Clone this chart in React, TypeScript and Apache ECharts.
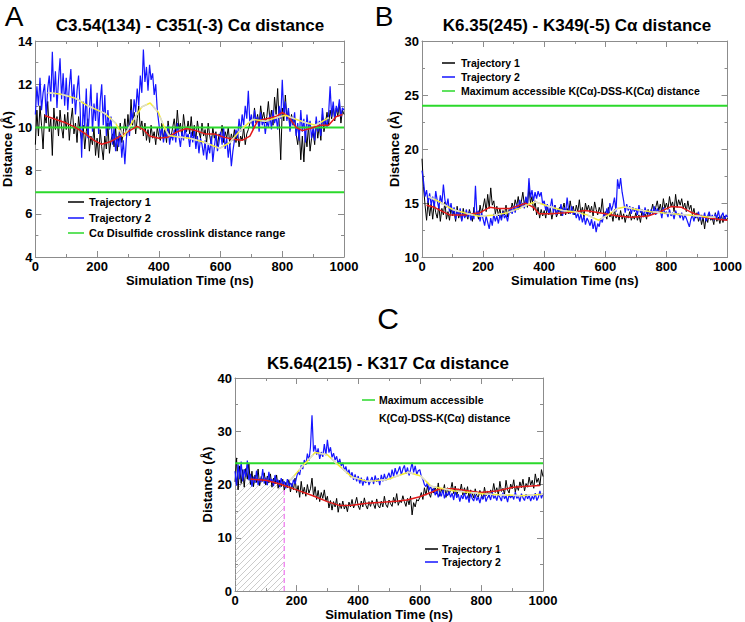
import React, { useEffect, useRef } from 'react';
import * as echarts from 'echarts';

// Sample times (ns), every 5 ns from 0 to 1000
const TIME: number[] = Array.from({ length: 201 }, (_, i) => i * 5);

// ---------- Panel A : C3.54(134) - C351(-3) ----------
const A_TRAJ1 = [
  9.2, 10.8, 9.6, 11.0, 10.1, 9.0, 10.6, 10.2, 11.2, 9.8,
  10.4, 8.7, 10.9, 9.9, 10.5, 9.6, 10.8, 10.0, 9.5, 10.6,
  9.9, 10.7, 9.4, 10.3, 10.9, 9.7, 10.2, 9.3, 10.5, 9.8,
  9.4, 10.1, 9.0, 9.8, 10.4, 8.9, 9.6, 9.2, 10.0, 8.7,
  9.5, 8.6, 9.9, 9.1, 8.5, 9.6, 9.0, 10.2, 8.8, 9.4,
  9.7, 9.1, 10.0, 8.9, 9.5, 10.2, 9.3, 9.8, 10.4, 9.6,
  10.6, 9.8, 11.3, 10.1, 10.7, 9.7, 10.4, 11.0, 9.9, 10.3,
  9.6, 10.2, 9.4, 9.9, 9.3, 10.1, 9.5, 9.8, 9.2, 10.0,
  9.6, 9.4, 10.2, 9.5, 9.9, 9.3, 10.3, 9.7, 9.6, 10.0,
  10.4, 9.7, 10.8, 9.9, 10.2, 9.5, 10.6, 10.0, 9.8, 10.3,
  9.7, 10.5, 9.6, 10.1, 9.4, 10.3, 9.8, 9.5, 10.2, 9.6,
  9.9, 9.3, 10.2, 9.6, 9.2, 10.0, 9.5, 9.8, 9.1, 9.7,
  9.6, 10.1, 9.3, 9.8, 9.5, 10.0, 9.2, 9.7, 9.4, 9.9,
  9.3, 9.8, 9.1, 9.6, 9.4, 10.0, 9.2, 9.7, 9.9, 10.2,
  10.4, 10.0, 10.9, 10.2, 10.6, 10.1, 11.0, 10.4, 10.7, 10.2,
  10.5, 11.2, 10.3, 10.8, 10.1, 11.4, 10.6, 11.8, 10.2, 8.5,
  10.9, 10.3, 11.5, 10.4, 10.8, 9.9, 10.6, 10.1, 10.4, 9.7,
  9.2, 9.9, 8.5, 9.6, 8.4, 9.8, 9.1, 10.1, 8.9, 9.5,
  9.8, 9.2, 10.3, 9.5, 10.1, 9.4, 10.6, 9.8, 10.2, 10.7,
  10.1, 10.8, 10.4, 11.0, 10.3, 10.9, 10.5, 11.1, 10.2, 10.8,
  10.6,
];
const A_TRAJ2 = [
  10.6, 11.9, 11.0, 12.3, 10.8, 11.6, 12.0, 10.5, 11.8, 12.4,
  11.2, 13.5, 11.4, 12.6, 10.9, 12.2, 13.2, 11.3, 12.5, 11.0,
  12.3, 10.8, 11.9, 12.7, 11.1, 12.0, 10.6, 11.7, 12.4, 10.9,
  8.6, 11.2, 10.0, 11.8, 9.5, 10.7, 12.0, 9.8, 11.1, 10.3,
  11.6, 9.7, 11.2, 12.0, 10.1, 11.5, 9.6, 10.8, 9.9, 10.5,
  9.2, 10.0, 8.9, 9.6, 9.1, 9.8, 8.6, 9.4, 8.3, 9.5,
  10.1, 9.6, 10.8, 10.3, 11.3, 10.7, 11.8, 11.0, 12.4, 11.6,
  13.6, 12.1, 12.8, 11.7, 12.9, 12.2, 12.5, 11.5, 12.0, 10.8,
  10.2, 9.6, 10.0, 9.3, 9.8, 9.5, 10.1, 9.2, 9.7, 9.4,
  9.9, 9.3, 10.2, 9.6, 9.1, 9.8, 9.4, 10.0, 9.5, 9.7,
  9.1, 9.8, 9.3, 9.9, 9.0, 9.6, 8.8, 9.5, 9.2, 8.7,
  9.4, 8.5, 9.2, 8.8, 9.6, 8.4, 9.1, 9.7, 8.9, 9.3,
  9.8, 9.2, 10.0, 9.0, 9.5, 8.6, 9.3, 8.2, 8.9, 9.4,
  9.9, 9.5, 10.4, 9.8, 10.6, 10.1, 11.0, 10.4, 11.7, 10.2,
  10.6, 9.9, 10.8, 10.2, 10.5, 9.8, 10.7, 10.1, 10.4, 9.7,
  10.3, 10.0, 10.6, 9.9, 10.8, 10.2, 10.5, 9.9, 11.0, 10.4,
  12.2, 10.6, 11.2, 10.3, 10.9, 9.8, 10.5, 10.1, 10.7, 9.6,
  10.2, 9.4, 10.8, 9.8, 10.4, 9.3, 10.6, 9.9, 10.3, 9.5,
  10.0, 9.4, 10.5, 9.8, 10.3, 9.6, 10.9, 10.1, 10.4, 10.0,
  10.6, 11.9, 10.5, 11.2, 10.4, 11.0, 10.7, 11.3, 10.5, 10.9,
  10.8,
];
const A_AVG1 = [
  [30, 10.55], [60, 10.4], [100, 10.2], [130, 10.0], [160, 9.72], [190, 9.4], [215, 9.22],
  [245, 9.35], [270, 9.55], [300, 9.8], [330, 10.05], [350, 9.9], [370, 9.6], [400, 9.5],
  [430, 9.55], [460, 9.8], [490, 9.95], [520, 9.85], [550, 9.7], [580, 9.7], [610, 9.55],
  [640, 9.45], [670, 9.4], [695, 9.6], [720, 10.3], [750, 10.4], [780, 10.5], [800, 10.7],
  [820, 10.5], [845, 10.0], [865, 9.85], [890, 9.95], [920, 10.1], [950, 10.1], [975, 10.5], [995, 10.6],
];
const A_AVG2 = [
  [40, 11.6], [80, 11.55], [130, 11.35], [170, 11.0], [225, 10.65], [260, 10.2], [285, 9.56],
  [300, 9.9], [320, 10.4], [345, 10.95], [372, 11.13], [398, 10.7], [415, 10.1], [432, 9.63],
  [465, 9.56], [500, 9.5], [550, 9.3], [597, 9.03], [630, 9.3], [660, 9.8], [690, 10.2],
  [705, 10.37], [745, 10.28], [780, 10.45], [810, 10.56], [853, 10.33], [880, 10.2], [908, 10.1], [951, 10.45],
];
const A_LOW = 7;
const A_HIGH = 10;

// ---------- Panel B : K6.35(245) - K349(-5) ----------
const B_TRAJ1 = [
  19.1, 16.5, 14.8, 13.4, 15.2, 13.8, 14.9, 13.5, 15.0, 14.1,
  13.6, 14.8, 13.3, 14.5, 13.9, 15.1, 13.5, 14.2, 13.4, 14.6,
  13.8, 14.3, 13.3, 14.7, 13.6, 14.1, 13.4, 14.5, 13.7, 14.0,
  13.5, 14.4, 13.9, 13.3, 14.6, 13.8, 14.2, 13.5, 14.8, 14.0,
  14.6, 15.4, 14.2, 15.8, 14.5, 16.4, 14.8, 15.2, 14.0, 14.7,
  13.8, 14.5, 13.6, 14.3, 13.9, 14.8, 13.7, 14.4, 14.1, 15.0,
  14.4, 15.3, 14.7, 15.6, 14.5, 15.1, 16.0, 14.8, 15.5, 14.6,
  16.5, 15.0, 15.6, 14.3, 15.2, 13.9, 14.6, 13.6, 14.4, 13.8,
  14.3, 13.6, 14.7, 13.9, 14.5, 13.5, 14.2, 14.8, 13.7, 14.1,
  14.6, 13.8, 14.4, 15.0, 13.9, 14.5, 14.0, 15.2, 14.3, 14.7,
  13.9, 14.8, 14.2, 15.3, 14.0, 14.6, 13.7, 15.0, 14.3, 14.8,
  14.1, 14.7, 13.8, 15.1, 14.4, 13.9, 14.6, 14.1, 15.4, 13.8,
  14.2, 13.5, 14.6, 13.7, 14.1, 13.3, 14.4, 13.6, 14.0, 13.4,
  14.3, 13.5, 14.0, 13.2, 13.9, 13.6, 14.2, 13.4, 13.8, 13.5,
  14.1, 13.4, 13.9, 13.2, 14.3, 13.7, 14.0, 13.5, 14.4, 13.8,
  14.2, 14.9, 14.0, 14.6, 15.2, 14.3, 14.9, 14.1, 15.4, 14.5,
  15.0, 14.4, 15.6, 14.7, 15.1, 14.2, 15.8, 14.6, 15.3, 14.8,
  15.4, 14.5, 15.0, 14.2, 15.2, 14.4, 14.8, 13.9, 14.5, 13.6,
  14.1, 13.3, 13.9, 13.0, 13.7, 12.6, 13.8, 13.2, 14.0, 13.4,
  13.6, 13.0, 14.1, 13.3, 13.7, 13.1, 13.9, 13.2, 13.8, 13.4,
  13.6,
];
const B_TRAJ2 = [
  18.0, 17.0, 15.6, 16.2, 15.0, 15.9, 14.8, 15.6, 14.6, 16.1,
  15.2, 14.5, 15.7, 14.9, 16.7, 15.3, 14.6, 15.4, 14.2, 15.0,
  14.0, 14.6, 13.5, 14.3, 13.8, 14.5, 13.3, 14.1, 13.6, 14.4,
  13.7, 14.2, 13.4, 14.0, 13.5, 16.6, 13.8, 14.3, 13.3, 14.1,
  13.5, 12.9, 13.8, 13.2, 12.6, 13.6, 12.9, 14.0, 13.3, 13.8,
  13.1, 13.9, 13.4, 14.2, 13.6, 13.9, 13.3, 14.1, 14.6, 14.0,
  14.7, 14.1, 14.9, 14.4, 15.3, 14.6, 15.0, 14.5, 15.6, 14.8,
  17.3, 15.5, 16.2, 15.2, 16.0, 15.4, 16.1, 15.6, 16.0, 14.9,
  15.2, 14.3, 14.9, 14.0, 14.6, 15.4, 14.1, 14.8, 13.9, 14.5,
  14.2, 14.9, 13.8, 14.6, 14.1, 15.5, 14.3, 14.0, 14.7, 13.9,
  14.3, 13.6, 14.1, 13.4, 14.0, 13.2, 13.8, 13.0, 13.6, 13.3,
  12.9, 13.5, 12.6, 13.3, 12.3, 13.1, 12.8, 13.6, 13.2, 14.0,
  13.7, 14.5, 13.9, 15.0, 14.3, 14.8, 15.5, 14.2, 17.2, 16.3,
  17.3, 16.0, 15.2, 14.1, 14.9, 14.3, 14.7, 14.0, 14.6, 14.2,
  14.5, 13.9, 14.8, 14.1, 14.4, 13.7, 14.6, 14.0, 14.3, 13.8,
  14.4, 14.0, 14.7, 13.9, 14.5, 14.1, 14.3, 13.6, 14.6, 14.0,
  14.2, 13.7, 14.4, 13.8, 14.1, 13.5, 14.3, 13.9, 14.0, 13.6,
  14.1, 13.4, 13.9, 13.6, 13.2, 12.8, 13.5, 13.9, 13.3, 14.0,
  13.6, 14.2, 13.4, 13.9, 13.5, 14.1, 13.3, 13.8, 14.2, 13.5,
  13.9, 13.4, 14.0, 13.6, 14.3, 13.5, 13.8, 14.1, 13.4, 13.9,
  13.7,
];
const B_AVG1 = [
  [15, 14.8], [40, 14.6], [90, 13.9], [140, 13.9], [190, 14.1], [221, 14.6], [250, 14.5],
  [290, 14.5], [340, 14.97], [365, 14.6], [383, 14.0], [420, 14.0], [470, 14.1], [535, 14.3],
  [600, 14.0], [640, 13.8], [686, 13.67], [740, 13.8], [780, 14.2], [815, 14.67], [850, 14.6],
  [880, 14.15], [920, 13.7], [967, 13.5], [1000, 13.4],
];
const B_AVG2 = [
  [20, 15.6], [58, 15.1], [100, 14.4], [150, 14.0], [188, 13.77], [240, 13.9], [280, 14.1],
  [318, 14.5], [350, 14.9], [372, 15.1], [415, 14.7], [460, 14.3], [502, 14.17], [540, 13.9],
  [578, 13.4], [610, 13.9], [640, 14.5], [664, 14.63], [700, 14.4], [750, 14.2], [794, 14.07],
  [840, 13.95], [880, 13.86], [945, 13.67], [960, 13.7],
];
const B_MAX = 24;

// ---------- Panel C : K5.64(215) - K317 ----------
const C_TRAJ1 = [
  20.5, 25.0, 19.0, 23.5, 20.2, 22.8, 19.5, 23.0, 21.0, 24.0,
  20.0, 22.5, 19.6, 21.8, 20.4, 22.9, 19.8, 21.5, 20.6, 22.2,
  19.9, 21.6, 20.3, 22.0, 19.5, 21.2, 20.1, 21.8, 19.3, 20.8,
  19.6, 21.0, 18.9, 20.4, 19.4, 20.9, 18.6, 20.2, 19.0, 21.2,
  18.5, 19.8, 17.6, 20.6, 18.2, 19.5, 17.8, 20.0, 18.4, 19.2,
  21.2, 17.8, 19.6, 17.2, 18.9, 16.8, 18.5, 17.4, 19.0, 16.9,
  17.8, 15.6, 17.0, 15.2, 16.8, 15.8, 17.4, 14.8, 16.5, 15.5,
  16.9, 15.4, 16.2, 14.9, 16.7, 15.8, 17.2, 15.6, 16.4, 17.6,
  16.0, 15.3, 16.9, 15.8, 17.5, 16.1, 15.4, 16.8, 15.9, 17.0,
  16.3, 15.5, 17.3, 16.0, 15.6, 16.9, 15.8, 17.8, 16.2, 15.7,
  17.1, 16.4, 15.9, 17.6, 16.5, 18.3, 16.1, 17.0, 16.6, 17.9,
  16.8, 15.9, 17.4, 16.2, 17.8, 14.3, 16.6, 15.8, 17.2, 16.9,
  17.6, 18.5, 17.2, 19.4, 18.0, 19.8, 18.3, 17.6, 19.2, 18.4,
  19.6, 18.2, 20.3, 17.8, 19.1, 18.5, 20.0, 17.6, 19.4, 18.1,
  19.0, 20.4, 18.3, 19.7, 17.9, 19.2, 18.6, 20.1, 18.0, 19.4,
  18.2, 19.6, 17.4, 19.0, 18.3, 17.5, 19.2, 18.0, 17.6, 18.9,
  18.1, 17.3, 19.5, 17.9, 18.8, 17.6, 19.0, 18.3, 20.2, 18.5,
  19.4, 18.0, 20.6, 18.7, 19.3, 18.2, 20.8, 19.0, 18.4, 20.1,
  19.2, 20.9, 18.6, 19.8, 18.9, 20.5, 19.4, 21.0, 18.8, 20.2,
  19.5, 21.4, 19.9, 20.8, 19.3, 22.0, 20.4, 21.2, 19.8, 22.8,
  21.5,
];
const C_TRAJ2 = [
  22.5, 19.8, 23.8, 21.0, 24.3, 20.6, 22.9, 21.4, 24.5, 20.8,
  22.0, 19.6, 21.5, 20.3, 22.6, 19.9, 21.1, 20.5, 22.9, 20.2,
  21.3, 19.9, 22.4, 20.6, 21.0, 19.7, 21.8, 20.4, 20.9, 19.5,
  21.2, 20.0, 20.6, 19.3, 21.0, 19.8, 20.3, 19.6, 20.9, 20.1,
  21.4, 22.5, 21.8, 23.6, 22.9, 24.6, 23.7, 25.8, 24.5, 27.0,
  33.0, 26.2, 27.4, 25.6, 26.8, 24.8, 26.1, 25.2, 27.6, 25.5,
  28.4, 26.0, 27.0, 25.1, 25.9, 24.6, 25.3, 23.9, 24.8, 23.5,
  24.1, 22.6, 23.4, 22.0, 22.8, 21.4, 22.3, 20.9, 21.9, 20.6,
  21.6, 20.2, 21.3, 19.8, 20.9, 20.3, 21.5, 19.9, 20.7, 21.4,
  20.1, 21.7, 20.5, 21.2, 19.9, 21.8, 20.6, 22.0, 20.8, 21.5,
  22.2, 21.0, 22.8, 21.5, 23.1, 21.9, 22.6, 23.4, 21.8, 22.9,
  23.6, 22.0, 23.2, 21.7, 22.8, 24.1, 22.3, 23.5, 21.9, 22.6,
  22.8, 21.5, 21.0, 20.0, 19.6, 20.4, 18.9, 19.8, 18.5, 19.3,
  18.0, 18.9, 17.6, 18.6, 17.8, 19.1, 17.4, 18.5, 17.9, 18.7,
  17.6, 18.4, 17.1, 18.8, 17.5, 18.2, 16.8, 18.0, 17.3, 18.5,
  17.2, 17.9, 16.6, 18.3, 17.4, 16.9, 18.1, 17.0, 17.7, 16.5,
  17.8, 17.2, 18.4, 16.8, 17.6, 18.0, 17.1, 18.6, 17.4, 17.9,
  17.0, 18.2, 17.6, 16.9, 18.5, 17.3, 17.9, 16.7, 18.1, 17.5,
  18.0, 17.2, 18.6, 17.4, 17.9, 16.8, 18.3, 17.5, 17.0, 18.2,
  17.3, 18.0, 16.9, 17.8, 17.2, 18.4, 17.0, 17.6, 18.8, 17.4,
  18.3,
];
const C_AVG1 = [
  [50, 21.0], [100, 20.8], [146, 20.1], [200, 19.0], [253, 17.9], [300, 16.8], [341, 16.05],
  [380, 16.1], [428, 16.5], [480, 16.7], [530, 16.9], [558, 17.1], [600, 17.7], [640, 18.6],
  [665, 19.2], [710, 19.2], [760, 18.8], [795, 18.5], [850, 18.8], [903, 19.5], [950, 19.7], [990, 19.8],
];
const C_AVG2 = [
  [178, 20.7], [220, 23.5], [260, 26.0], [300, 25.6], [325, 24.2], [380, 21.4], [430, 20.6],
  [455, 20.7], [497, 21.0], [562, 22.3], [603, 21.6], [636, 19.7], [714, 18.8], [821, 18.2],
  [928, 17.9], [1000, 18.2],
];
const C_EQUIL = [[0, 20.3], [50, 21.0], [100, 20.8], [160, 19.4]];
const C_CUTOFF = 160;
const C_MAX = 24;

// ---------- styling ----------
const FONT = "'Liberation Sans', Arial, Helvetica, sans-serif";
const GREY = '#8c8c8c';
const BLACK = '#000000';
const BLUE = '#1515ff';
const GREEN = '#2bd92b';
const RED = '#e41b1b';
const YELLOW = '#f4ec3a';
const LIGHT = '#d9d9d9';

const hatchSvg =
  "<svg xmlns='http://www.w3.org/2000/svg' width='6' height='6'>" +
  "<path d='M0,6 L6,0 M-1,1 L1,-1 M5,7 L7,5' stroke='#b4b4b4' stroke-width='0.7'/></svg>";
const HATCH_URL = 'data:image/svg+xml;charset=utf-8,' + encodeURIComponent(hatchSvg);

const pairs = (vals: number[]) => vals.map((v, i) => [TIME[i], v]);
const plain = (v: number) => String(v);

function xAxes(grid: number) {
  const base: any = {
    type: 'value',
    gridIndex: grid,
    min: 0,
    max: 1000,
    interval: 200,
    axisLine: { show: true, onZero: false, lineStyle: { color: GREY, width: 1 } },
    axisTick: { show: true, inside: true, length: 6, lineStyle: { color: GREY } },
    minorTick: { show: true, splitNumber: 2, length: 3, lineStyle: { color: GREY } },
    splitLine: { show: false },
    minorSplitLine: { show: false },
  };
  return [
    {
      ...base,
      position: 'bottom',
      name: 'Simulation Time (ns)',
      nameLocation: 'middle',
      nameGap: 13,
      nameTextStyle: { fontFamily: FONT, fontWeight: 'bold', fontSize: 13, color: '#000', verticalAlign: 'top' },
      axisLabel: { fontFamily: FONT, fontWeight: 'bold', fontSize: 13, color: '#000', margin: 3, formatter: plain },
    },
    { ...base, position: 'top', axisLabel: { show: false } },
  ];
}

function yAxes(grid: number, min: number, max: number, interval: number, gap: number) {
  const base: any = {
    type: 'value',
    gridIndex: grid,
    min,
    max,
    interval,
    axisLine: { show: true, onZero: false, lineStyle: { color: GREY, width: 1 } },
    axisTick: { show: true, inside: true, length: 6, lineStyle: { color: GREY } },
    minorTick: { show: true, splitNumber: 2, length: 3, lineStyle: { color: GREY } },
    splitLine: { show: false },
    minorSplitLine: { show: false },
  };
  return [
    {
      ...base,
      position: 'left',
      name: 'Distance (Å)',
      nameLocation: 'middle',
      nameGap: gap,
      nameTextStyle: { fontFamily: FONT, fontWeight: 'bold', fontSize: 13, color: '#000' },
      axisLabel: { fontFamily: FONT, fontWeight: 'bold', fontSize: 13, color: '#000', margin: 3, formatter: plain },
    },
    { ...base, position: 'right', axisLabel: { show: false } },
  ];
}

function line(idx: number, data: any[], color: string, width: number, extra: any = {}) {
  return {
    type: 'line',
    xAxisIndex: idx * 2,
    yAxisIndex: idx * 2,
    data,
    showSymbol: false,
    symbol: 'none',
    silent: true,
    clip: true,
    lineStyle: { color, width, ...(extra.lineStyle || {}) },
    ...(extra.areaStyle ? { areaStyle: extra.areaStyle } : {}),
    z: extra.z ?? 2,
  };
}

function txt(x: number, y: number, text: string, size: number, weight: string, align = 'left') {
  return {
    type: 'text',
    x,
    y,
    silent: true,
    style: {
      text,
      fill: '#000',
      font: `${weight} ${size}px ${FONT}`,
      align,
      verticalAlign: 'middle',
      textAlign: align,
      textVerticalAlign: 'middle',
    },
    z: 100,
  };
}

function seg(x1: number, y: number, x2: number, color: string, width = 1.5) {
  return { type: 'line', silent: true, shape: { x1, y1: y, x2, y2: y }, style: { stroke: color, lineWidth: width }, z: 100 };
}

function smoothPair(idx: number, data: number[][], base: string, overlay: string | null) {
  const out: any[] = [line(idx, data, base, 1.5, { z: 5 })];
  if (overlay) out.push(line(idx, data, overlay, 1.5, { z: 6, lineStyle: { type: [7, 7] } }));
  return out;
}

const option: any = {
  animation: false,
  backgroundColor: '#ffffff',
  grid: [
    { left: 35, top: 41, width: 309, height: 216 },
    { left: 422, top: 41, width: 308, height: 216 },
    { left: 235, top: 378, width: 308, height: 215 },
  ],
  xAxis: [...xAxes(0), ...xAxes(1), ...xAxes(2)],
  yAxis: [...yAxes(0, 4, 14, 2, 18), ...yAxes(1, 10, 30, 5, 13), ...yAxes(2, 0, 40, 10, 20)],
  series: [
    // Panel A
    line(0, pairs(A_TRAJ1), BLACK, 1),
    line(0, pairs(A_TRAJ2), BLUE, 1.2),
    line(0, [[0, A_HIGH], [1000, A_HIGH]], GREEN, 2, { z: 4 }),
    line(0, [[0, A_LOW], [1000, A_LOW]], GREEN, 2, { z: 4 }),
    ...smoothPair(0, A_AVG1, RED, null),
    ...smoothPair(0, A_AVG2, YELLOW, LIGHT),
    // Panel B
    line(1, pairs(B_TRAJ1), BLACK, 1),
    line(1, pairs(B_TRAJ2), BLUE, 1.2),
    line(1, [[0, B_MAX], [1000, B_MAX]], GREEN, 2, { z: 4 }),
    ...smoothPair(1, B_AVG1, RED, null),
    ...smoothPair(1, B_AVG2, YELLOW, LIGHT),
    // Panel C
    line(2, C_EQUIL, 'rgba(0,0,0,0)', 0, {
      z: 1,
      areaStyle: {
        color: { image: HATCH_URL, repeat: 'repeat', imageWidth: 6, imageHeight: 6 },
        opacity: 1,
      },
    }),
    line(2, [[C_CUTOFF, 0], [C_CUTOFF, C_EQUIL[C_EQUIL.length - 1][1]]], '#f08cf0', 1.5, {
      z: 3,
      lineStyle: { type: [5, 3] },
    }),
    line(2, pairs(C_TRAJ1), BLACK, 1),
    line(2, pairs(C_TRAJ2), BLUE, 1.2),
    line(2, [[0, C_MAX], [1000, C_MAX]], GREEN, 2, { z: 4 }),
    ...smoothPair(2, C_AVG1, RED, null),
    ...smoothPair(2, C_AVG2, YELLOW, LIGHT),
  ],
  graphic: [
    // panel letters
    txt(14, 16, 'A', 28, 'normal', 'center'),
    txt(384, 16, 'B', 28, 'normal', 'center'),
    txt(388, 318, 'C', 30, 'normal', 'center'),
    // titles
    txt(190, 25, 'C3.54(134) - C351(-3) Cα distance', 17, 'bold', 'center'),
    txt(577, 25, 'K6.35(245) - K349(-5) Cα distance', 17, 'bold', 'center'),
    txt(388, 363, 'K5.64(215) - K317 Cα distance', 17, 'bold', 'center'),
    // legend A
    seg(68, 202, 84, BLACK),
    txt(89, 202, 'Trajectory 1', 11, 'bold'),
    seg(68, 218, 84, BLUE),
    txt(89, 218, 'Trajectory 2', 11, 'bold'),
    seg(68, 233, 84, GREEN),
    txt(89, 233, 'Cα Disulfide crosslink distance range', 11, 'bold'),
    // legend B
    seg(442, 63, 455, BLACK),
    txt(461, 63, 'Trajectory 1', 10.5, 'bold'),
    seg(442, 77, 455, BLUE),
    txt(461, 77, 'Trajectory 2', 10.5, 'bold'),
    seg(442, 91, 455, GREEN),
    txt(461, 91, 'Maximum accessible K(Cα)-DSS-K(Cα) distance', 10.5, 'bold'),
    // legend C
    seg(362, 400, 375, GREEN),
    txt(379, 400, 'Maximum accessible', 10.5, 'bold'),
    txt(379, 418, 'K(Cα)-DSS-K(Cα) distance', 10.5, 'bold'),
    seg(425, 549, 438, BLACK),
    txt(442, 549, 'Trajectory 1', 10.5, 'bold'),
    seg(425, 562, 438, BLUE),
    txt(442, 562, 'Trajectory 2', 10.5, 'bold'),
  ],
};

export default function App() {
  const ref = useRef<HTMLDivElement>(null);
  useEffect(() => {
    if (!ref.current) return;
    const chart = echarts.init(ref.current, null, { renderer: 'svg' });
    chart.setOption(option);
    return () => chart.dispose();
  }, []);
  return (
    <div
      ref={ref}
      style={{ position: 'fixed', left: 0, top: 0, width: 745, height: 622, background: '#ffffff' }}
    />
  );
}
